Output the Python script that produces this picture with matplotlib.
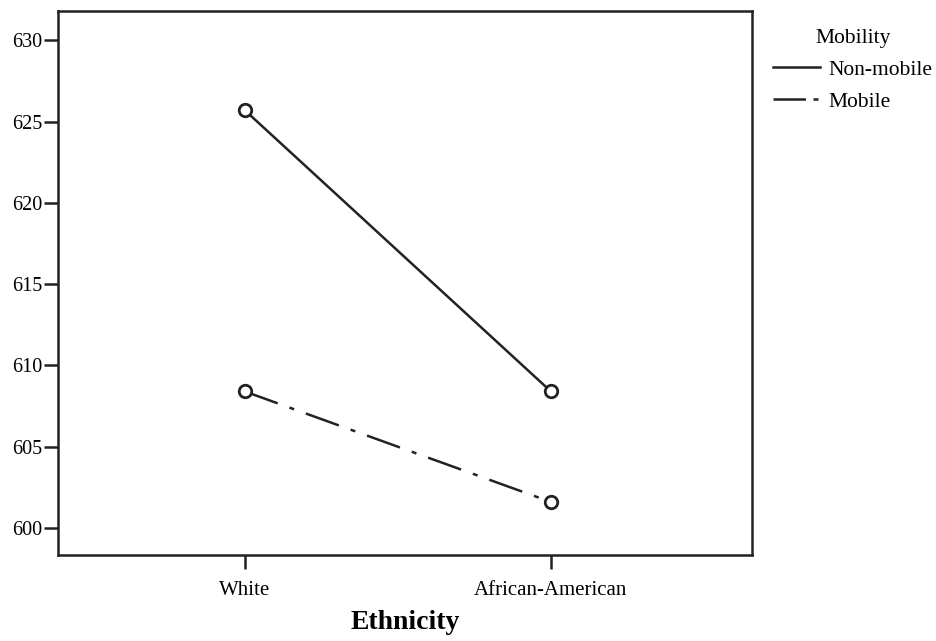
import matplotlib.pyplot as plt

# data
ethnicity = ["White", "African-American"]
non_mobile = [625.7, 608.4]
mobile = [608.4, 601.6]
y_ticks = [600, 605, 610, 615, 620, 625, 630]

plt.rcParams['font.family'] = ['Liberation Serif', 'DejaVu Serif']

fig = plt.figure(figsize=(9.37, 6.41), dpi=100)
ax = fig.add_axes([0.0619, 0.1342, 0.7407, 0.8486])

x = list(range(len(ethnicity)))
ax.plot(x, non_mobile, color='#222222', lw=1.8, linestyle='-',
        marker='o', ms=9, mfc='white', mec='#222222', mew=2, label='Non-mobile')
ax.plot(x, mobile, color='#222222', lw=1.8, linestyle=(0, (14, 5, 2, 5)),
        marker='o', ms=9, mfc='white', mec='#222222', mew=2, label='Mobile')

ax.set_xlim(-0.61, 1.657)
ax.set_ylim(598.34, 631.8)
ax.set_xticks(x)
ax.set_xticklabels(ethnicity, fontsize=15)
ax.set_yticks(y_ticks)
ax.set_yticklabels([str(v) for v in y_ticks], fontsize=14.5)
ax.tick_params(axis='both', direction='out', length=10, width=1.8, color='#222222')
ax.tick_params(axis='y', pad=1)
ax.tick_params(axis='x', pad=8.5)

for s in ax.spines.values():
    s.set_linewidth(1.8)
    s.set_color('#222222')

ax.set_xlabel('Ethnicity', fontsize=20, fontweight='bold', labelpad=7.5)

leg = ax.legend(loc='upper left', bbox_to_anchor=(0.825, 0.955), bbox_transform=fig.transFigure,
                frameon=False, title='Mobility', fontsize=15.5, title_fontsize=15.5,
                handlelength=2.2, handletextpad=0.37, labelspacing=0.55,
                borderpad=0, borderaxespad=0)
for h in leg.legend_handles:
    h.set_marker('')
leg.legend_handles[1].set_linestyle((0, (13, 3, 2, 3)))

plt.savefig('out.png', dpi=100)
